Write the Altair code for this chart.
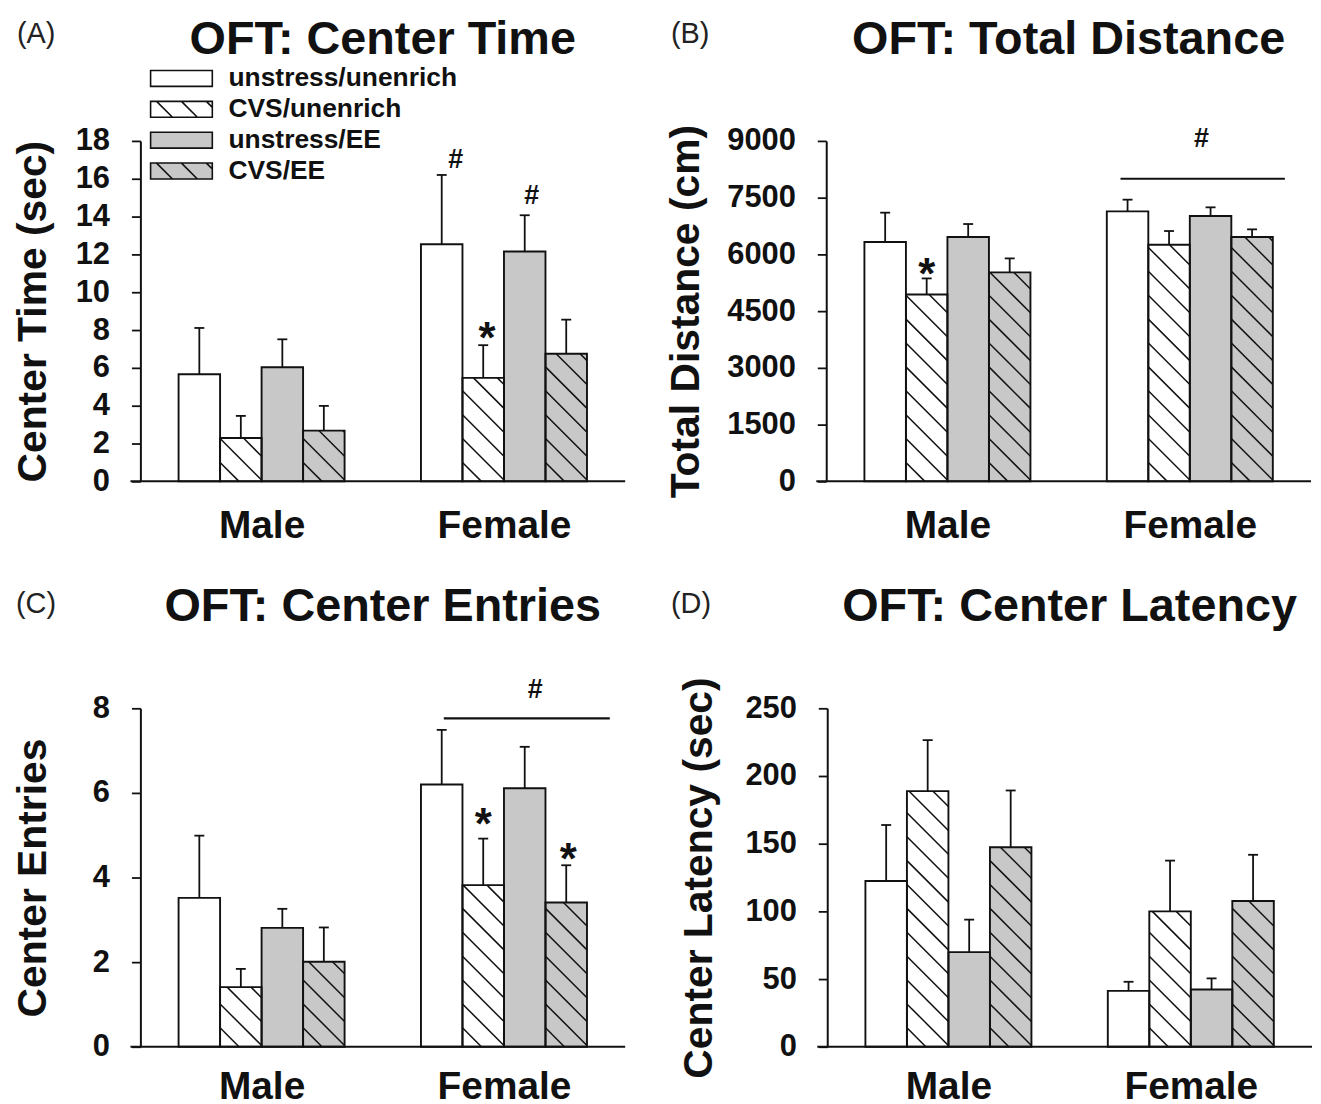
import altair as alt
import pandas as pd

FONT = "Liberation Sans"
INK = "#111111"

# ---------------- data ----------------
groups = ["Male", "Female"]
conditions = ["unstress/unenrich", "CVS/unenrich", "unstress/EE", "CVS/EE"]
cond_fill = ["#ffffff", "#ffffff", "#c8c8c8", "#c8c8c8"]
cond_hatch = [False, True, False, True]

# order: Male x 4 conditions, then Female x 4 conditions
time_mean = [5.66, 2.29, 6.03, 2.68, 12.54, 5.47, 12.15, 6.75]
time_se = [2.45, 1.17, 1.48, 1.31, 3.66, 1.73, 1.92, 1.80]
dist_mean = [6327, 4941, 6459, 5524, 7138, 6256, 7015, 6459]
dist_se = [776, 424, 344, 370, 309, 362, 229, 203]
entries_mean = [3.52, 1.41, 2.81, 2.01, 6.20, 3.82, 6.11, 3.41]
entries_se = [1.47, 0.43, 0.45, 0.81, 1.29, 1.10, 0.98, 0.88]
latency_mean = [122.4, 188.8, 69.9, 147.4, 41.3, 100.0, 42.3, 107.7]
latency_se = [41.4, 37.7, 24.0, 41.9, 6.7, 37.5, 8.2, 34.1]

time_ticks = [0, 2, 4, 6, 8, 10, 12, 14, 16, 18]
dist_ticks = [0, 1500, 3000, 4500, 6000, 7500, 9000]
entries_ticks = [0, 2, 4, 6, 8]
latency_ticks = [0, 50, 100, 150, 200, 250]

# significance marks: (symbol, group index, position inside group in bar widths, value at glyph centre)
time_marks = [("#", 1, 0.84, 17.0), ("*", 1, 1.59, 8.1), ("#", 1, 2.67, 15.1)]
dist_marks = [("*", 0, 1.5, 5750), ("#", 1, 2.28, 9050)]
entries_marks = [("#", 1, 2.75, 8.43), ("*", 1, 1.5, 5.49), ("*", 1, 3.55, 4.68)]
latency_marks = []
# significance lines: (group index, start, end in bar widths, value)
dist_lines = [(1, 0.33, 4.29, 8000)]
entries_lines = [(1, 0.55, 4.55, 7.76)]
time_lines = []
latency_lines = []

# ---------------- layout ----------------
W = 487
H_TOP = 342
H_BOT = 340
PAD = 0.92
TOTAL = 8 + 4 * PAD
HATCH_GAP = 24
HATCH_PHASE = 19
CAP_PX = 5
TITLE_FS = 47
TITLE_Y = -87.5
XLAB_FS = 39


def bar_left(g, j):
    return PAD + g * (4 + 2 * PAD) + j


def one():
    return alt.Data(values=[{"k": 1}])


# legend symbol: 62 x 16 px box (unit = 8 px with symbolSize 256)
legend_box = "M-1,-1H6.75V1H-1Z"
legend_hatch = "M-0.25,-1L1.75,1M2.875,-1L4.875,1M6,-1L6.75,-0.25"
legend_paths = [legend_box + (legend_hatch if h else "") for h in cond_hatch]


def panel(letter, title, ytitle, means, ses, ymax, ticks, marks, lines,
          H, title_x_off, letter_x, letter_y, xlab_pad, show_legend):
    sx = W / TOTAL
    sy = H / ymax
    rows, hatch_rows = [], []
    for g, grp in enumerate(groups):
        for j, cond in enumerate(conditions):
            i = g * 4 + j
            x0 = bar_left(g, j)
            top = means[i] + ses[i]
            rows.append(dict(group=grp, cond=cond, x0=x0, x1=x0 + 1, xc=x0 + 0.5,
                             cl=x0 + 0.5 - CAP_PX / sx, cr=x0 + 0.5 + CAP_PX / sx,
                             mean=means[i], top=top, fill=cond_fill[j]))
            if cond_hatch[j]:
                X0, X1, Yt = x0 * sx, (x0 + 1) * sx, means[i] * sy
                k = 0
                while True:
                    c = X0 + HATCH_PHASE + k * HATCH_GAP
                    if c - X1 > Yt:
                        break
                    xs = max(X0, c - Yt)
                    xe = min(X1, c)
                    if xe > xs:
                        hatch_rows.append(dict(x=xs / sx, y=(c - xs) / sy,
                                               x2=xe / sx, y2=(c - xe) / sy))
                    k += 1
    df = pd.DataFrame(rows)
    hdf = pd.DataFrame(hatch_rows)

    xs_ = alt.Scale(domain=[0, TOTAL], nice=False, zero=False)
    ys_ = alt.Scale(domain=[0, ymax], nice=False, zero=True)
    xaxis = alt.Axis(values=[bar_left(0, 0) + 2, bar_left(1, 0) + 2],
                     labelExpr=f"datum.value < {TOTAL / 2} ? '{groups[0]}' : '{groups[1]}'",
                     title=None, grid=False, ticks=False, domain=False,
                     labelFontSize=XLAB_FS, labelFontWeight="bold", labelColor=INK,
                     labelPadding=xlab_pad, labelFlush=False, labelFont=FONT)
    yaxis = alt.Axis(values=ticks, tickCount=40, format="d", title=ytitle, grid=False,
                     labelFontSize=31, labelFontWeight="bold", labelColor=INK,
                     labelPadding=22, labelFlush=False, labelOverlap=False, labelFont=FONT,
                     tickSize=9, tickWidth=1.8, tickColor=INK,
                     domainColor=INK, domainWidth=2,
                     titleFontSize=41, titleFontWeight="bold", titleColor=INK,
                     titleFont=FONT, titleAngle=270, titleAlign="center",
                     titleBaseline="alphabetic", titleX=title_x_off, titleY=H / 2)

    base = alt.Chart(df)
    bars = base.mark_bar(strokeWidth=0).encode(
        x=alt.X("x0:Q", scale=xs_, axis=xaxis),
        x2="x1:Q",
        y=alt.Y("mean:Q", scale=ys_, axis=yaxis),
        y2=alt.datum(0),
        fill=alt.Fill("fill:N", scale=None),
    )
    hatch = alt.Chart(hdf).mark_rule(color=INK, strokeWidth=1.5).encode(
        x="x:Q", y="y:Q", x2="x2:Q", y2="y2:Q")
    outline = base.mark_bar(fillOpacity=0, stroke=INK, strokeWidth=1.9).encode(
        x="x0:Q", x2="x1:Q", y="mean:Q", y2=alt.datum(0))
    err = base.mark_rule(color=INK, strokeWidth=1.8).encode(
        x="xc:Q", y="mean:Q", y2="top:Q")
    cap = base.mark_rule(color=INK, strokeWidth=1.8).encode(
        x="cl:Q", x2="cr:Q", y="top:Q")
    xline = alt.Chart(one()).mark_rule(color=INK, strokeWidth=2).encode(
        x=alt.value(-10), x2=alt.value(W), y=alt.value(H))
    ttl = alt.Chart(one()).mark_text(
        text=title, font=FONT, fontSize=TITLE_FS, fontWeight="bold", align="center",
        baseline="alphabetic", color=INK).encode(x=alt.value(W / 2), y=alt.value(TITLE_Y))
    let = alt.Chart(one()).mark_text(
        text=letter, font=FONT, fontSize=29, fontWeight="normal", align="left",
        baseline="alphabetic", color="#222222").encode(x=alt.value(letter_x), y=alt.value(letter_y))

    layers = [bars, hatch, outline, err, cap, xline, ttl, let]

    hashes = [dict(x=bar_left(g, 0) + p, y=v) for s, g, p, v in marks if s == "#"]
    stars = [dict(x=bar_left(g, 0) + p, y=v) for s, g, p, v in marks if s == "*"]
    if hashes:
        layers.append(alt.Chart(pd.DataFrame(hashes)).mark_text(
            text="#", font=FONT, fontSize=27, fontWeight="bold", baseline="middle", color=INK
        ).encode(x="x:Q", y="y:Q"))
    if stars:
        layers.append(alt.Chart(pd.DataFrame(stars)).mark_text(
            text="*", font=FONT, fontSize=44, fontWeight="bold", baseline="middle", dy=12, color=INK
        ).encode(x="x:Q", y="y:Q"))
    if lines:
        ldf = pd.DataFrame([dict(x=bar_left(g, 0) + a, x2=bar_left(g, 0) + b, y=v)
                            for g, a, b, v in lines])
        layers.append(alt.Chart(ldf).mark_rule(color=INK, strokeWidth=2.2).encode(
            x="x:Q", x2="x2:Q", y="y:Q"))

    if show_legend:
        leg = alt.Legend(orient="none", legendX=5, legendY=-76, title=None,
                         labelFontSize=26.5, labelFontWeight="bold", labelColor=INK,
                         labelFont=FONT, labelLimit=400, labelOffset=57,
                         symbolSize=256, symbolStrokeColor=INK, symbolStrokeWidth=1.6,
                         symbolOpacity=1, rowPadding=4, padding=0)
        ldata = pd.DataFrame({"cond": conditions})
        legend_layer = alt.Chart(ldata).transform_filter("false").mark_point(
            filled=True, strokeWidth=1.6, opacity=1).encode(
            x=alt.value(0), y=alt.value(0),
            shape=alt.Shape("cond:N", scale=alt.Scale(domain=conditions, range=legend_paths),
                            legend=leg),
            fill=alt.Fill("cond:N", scale=alt.Scale(domain=conditions, range=cond_fill),
                          legend=leg),
            stroke=alt.Stroke("cond:N", scale=alt.Scale(domain=conditions, range=[INK] * 4),
                              legend=leg),
        )
        layers.append(legend_layer)

    return alt.layer(*layers).properties(width=W, height=H)


A = panel("(A)", "OFT: Center Time", "Center Time (sec)", time_mean, time_se, 18,
          time_ticks, time_marks, time_lines, H_TOP, -95, -124, -98, 25, True)
B = panel("(B)", "OFT: Total Distance", "Total Distance (cm)", dist_mean, dist_se, 9000,
          dist_ticks, dist_marks, dist_lines, H_TOP, -128, -156, -98, 25, False)
C = panel("(C)", "OFT: Center Entries", "Center Entries", entries_mean, entries_se, 8,
          entries_ticks, entries_marks, entries_lines, H_BOT, -95, -125, -96, 21, False)
D = panel("(D)", "OFT: Center Latency", "Center Latency (sec)", latency_mean, latency_se, 250,
          latency_ticks, latency_marks, latency_lines, H_BOT, -116, -157, -96, 21, False)

chart = alt.vconcat(
    alt.hconcat(A, B, spacing=40),
    alt.hconcat(C, D, spacing=45),
    spacing=38,
).properties(
    padding={"left": 5, "top": 5, "right": 0, "bottom": 0}
).configure(font=FONT).configure_view(stroke=None)

chart.save("out.html", embed_options={"renderer": "svg", "actions": False})
